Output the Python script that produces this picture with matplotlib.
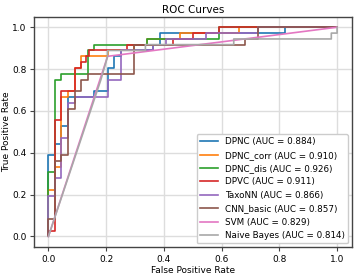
import matplotlib
matplotlib.use('Agg')
import matplotlib.pyplot as plt

# ROC points (false positive rate, true positive rate)
labels = ['DPNC', 'DPNC_corr', 'DPNC_dis', 'DPVC', 'TaxoNN', 'CNN_basic', 'SVM', 'Naive Bayes']
aucs = [0.884, 0.910, 0.926, 0.911, 0.866, 0.857, 0.829, 0.814]

fpr_dpnc = [0, 0, 0.023, 0.023, 0.045, 0.045, 0.068, 0.068, 0.159, 0.159, 0.205, 0.205, 0.227, 0.227,
            0.25, 0.25, 0.364, 0.364, 0.386, 0.386, 0.818, 0.818, 1.0]
tpr_dpnc = [0, 0.389, 0.389, 0.444, 0.444, 0.528, 0.528, 0.667, 0.667, 0.694, 0.694, 0.806, 0.806, 0.861,
            0.861, 0.889, 0.889, 0.917, 0.917, 0.972, 0.972, 1.0, 1.0]

fpr_corr = [0, 0, 0.023, 0.023, 0.045, 0.045, 0.068, 0.068, 0.091, 0.091, 0.114, 0.114, 0.205, 0.205,
            0.295, 0.295, 0.341, 0.341, 0.455, 0.455, 0.659, 0.659, 1.0]
tpr_corr = [0, 0.222, 0.222, 0.333, 0.333, 0.667, 0.667, 0.694, 0.694, 0.806, 0.806, 0.861, 0.861, 0.889,
            0.889, 0.917, 0.917, 0.944, 0.944, 0.972, 0.972, 1.0, 1.0]

fpr_dis = [0, 0, 0.023, 0.023, 0.045, 0.045, 0.136, 0.136, 0.159, 0.159, 0.341, 0.341, 0.591, 0.591, 1.0]
tpr_dis = [0, 0.306, 0.306, 0.75, 0.75, 0.778, 0.778, 0.889, 0.889, 0.917, 0.917, 0.944, 0.944, 1.0, 1.0]

fpr_dpvc = [0, 0, 0.023, 0.023, 0.045, 0.045, 0.091, 0.091, 0.114, 0.114, 0.13, 0.13, 0.139, 0.139,
            0.273, 0.273, 0.432, 0.432, 0.5, 0.5, 0.591, 0.591, 1.0]
tpr_dpvc = [0, 0.028, 0.028, 0.556, 0.556, 0.694, 0.694, 0.806, 0.806, 0.833, 0.833, 0.861, 0.861, 0.889,
            0.889, 0.917, 0.917, 0.944, 0.944, 0.972, 0.972, 1.0, 1.0]

fpr_taxo = [0, 0, 0.023, 0.023, 0.045, 0.045, 0.068, 0.068, 0.091, 0.091, 0.205, 0.205, 0.25, 0.25,
            0.364, 0.364, 0.409, 0.409, 0.545, 0.545, 0.727, 0.727, 1.0]
tpr_taxo = [0, 0.194, 0.194, 0.278, 0.278, 0.472, 0.472, 0.639, 0.639, 0.667, 0.667, 0.75, 0.75, 0.889,
            0.889, 0.917, 0.917, 0.944, 0.944, 0.972, 0.972, 1.0, 1.0]

fpr_cnn = [0, 0, 0.023, 0.023, 0.045, 0.045, 0.068, 0.068, 0.091, 0.091, 0.114, 0.114, 0.136, 0.136,
           0.295, 0.295, 0.682, 0.682, 0.727, 0.727, 1.0]
tpr_cnn = [0, 0.083, 0.083, 0.361, 0.361, 0.389, 0.389, 0.611, 0.611, 0.694, 0.694, 0.75, 0.75, 0.778,
           0.778, 0.917, 0.917, 0.944, 0.944, 1.0, 1.0]

fpr_svm = [0, 0.205, 1.0]
tpr_svm = [0, 0.861, 1.0]

fpr_nb = [0, 0.182, 0.205, 0.205, 0.336, 0.336, 0.642, 0.642, 0.98, 0.98, 1.0, 1.0]
tpr_nb = [0, 0.75, 0.861, 0.889, 0.889, 0.917, 0.917, 0.944, 0.944, 0.972, 0.972, 1.0]

fprs = [fpr_dpnc, fpr_corr, fpr_dis, fpr_dpvc, fpr_taxo, fpr_cnn, fpr_svm, fpr_nb]
tprs = [tpr_dpnc, tpr_corr, tpr_dis, tpr_dpvc, tpr_taxo, tpr_cnn, tpr_svm, tpr_nb]
colors = ['#1f77b4', '#ff7f0e', '#2ca02c', '#d62728', '#9467bd', '#8c564b', '#e377c2', '#a8a8a8']

fig = plt.figure(figsize=(3.54, 2.75), dpi=100)
ax = fig.add_axes([0.096, 0.102, 0.897, 0.837])

for i in range(len(labels)):
    ax.plot(fprs[i], tprs[i], color=colors[i], lw=1.2,
            label='%s (AUC = %.3f)' % (labels[i], aucs[i]))

ax.set_xlim(-0.05, 1.05)
ax.set_ylim(-0.05, 1.05)
ax.set_xticks([0, 0.2, 0.4, 0.6, 0.8, 1.0])
ax.set_yticks([0, 0.2, 0.4, 0.6, 0.8, 1.0])
ax.tick_params(labelsize=6.5, length=3, width=0.8, pad=2.5, color='#444444')
ax.grid(True, color='#dddddd', lw=1.0)
for s in ax.spines.values():
    s.set_color('#444444')
    s.set_linewidth(1.0)
ax.set_title('ROC Curves', fontsize=7.5, pad=3)
ax.set_xlabel('False Positive Rate', fontsize=6.5, labelpad=1.5)
ax.set_ylabel('True Positive Rate', fontsize=6.5, labelpad=1)
ax.legend(loc='lower right', fontsize=6.3, labelspacing=0.5, handlelength=2.0,
          borderaxespad=0.4, framealpha=1.0)

fig.savefig('out.png', dpi=100)
